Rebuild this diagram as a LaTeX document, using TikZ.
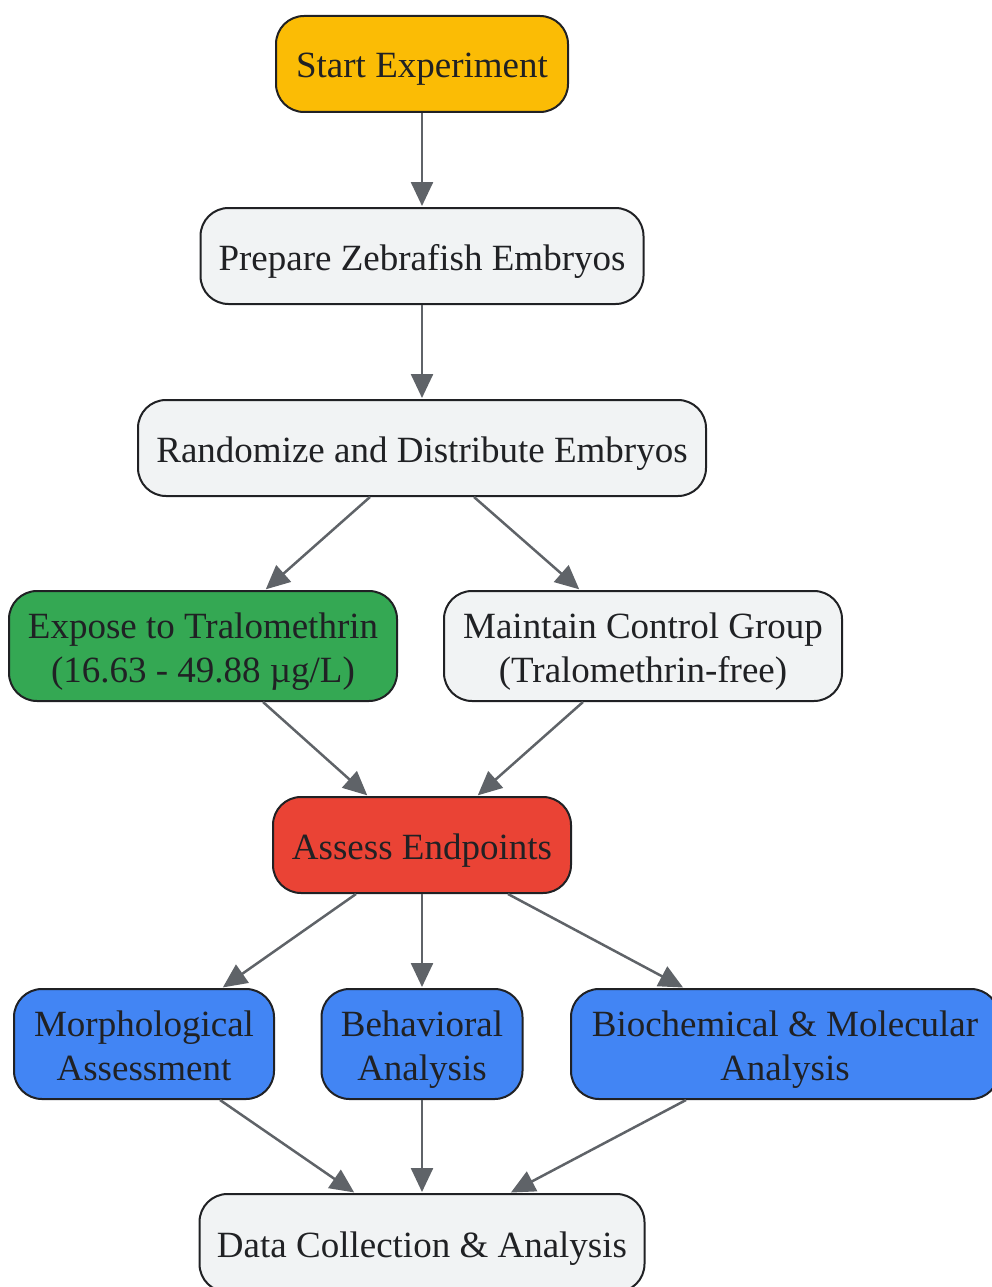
\documentclass[tikz,border=0pt]{standalone}
\usepackage{fontspec}
\setmainfont{Liberation Serif}
\usetikzlibrary{arrows.meta}
\definecolor{txt}{HTML}{202124}
\definecolor{edge}{HTML}{5F6368}
\definecolor{grayfill}{HTML}{F1F3F4}
\definecolor{yel}{HTML}{FBBC05}
\definecolor{grn}{HTML}{34A853}
\definecolor{redc}{HTML}{EA4335}
\definecolor{blu}{HTML}{4285F4}
\begin{document}
\begin{tikzpicture}[x=1pt,y=-1pt,
  box/.style={draw=txt, line width=2pt, rounded corners=28pt, align=center,
    text=txt, font=\fontsize{37}{44}\selectfont, inner sep=0pt},
  one/.style={box, minimum height=96pt, text height=34pt, text depth=6pt},
  two/.style={box, minimum height=110pt, text height=78pt, text depth=6pt},
  conn/.style={draw=edge, line width=2.5pt, -{Triangle[length=24pt,width=22pt]}, shorten >=1pt}
]
\useasboundingbox (0,0) rectangle (992,1287);
\node[one, fill=yel, minimum width=292pt] (start) at (422,64) {Start Experiment};
\node[one, fill=grayfill, minimum width=443pt] (prep) at (422,256) {Prepare Zebrafish Embryos};
\node[one, fill=grayfill, minimum width=568pt] (rand) at (422,448) {Randomize and Distribute Embryos};
\node[two, fill=grn, minimum width=388pt] (expo) at (203,646) {Expose to Tralomethrin\\(16.63 - 49.88 µg/L)};
\node[two, fill=grayfill, minimum width=398pt] (ctrl) at (643,646) {Maintain Control Group\\(Tralomethrin-free)};
\node[one, fill=redc, minimum width=298pt] (assess) at (422,845) {Assess Endpoints};
\node[two, fill=blu, minimum width=260pt] (morph) at (144,1044) {Morphological\\Assessment};
\node[two, fill=blu, minimum width=201pt] (behav) at (422,1044) {Behavioral\\Analysis};
\node[two, fill=blu, minimum width=428pt] (bio) at (785,1044) {Biochemical \& Molecular\\Analysis};
\node[one, fill=grayfill, minimum width=445pt, minimum height=98pt] (data) at (422,1243) {Data Collection \& Analysis};

\draw[conn] (start.south) -- (prep.north);
\draw[conn] (prep.south) -- (rand.north);
\draw[conn] ([xshift=-52pt]rand.south) -- ([xshift=62pt]expo.north);
\draw[conn] ([xshift=52pt]rand.south) -- ([xshift=-63pt]ctrl.north);
\draw[conn] ([xshift=60pt]expo.south) -- ([xshift=-54pt]assess.north);
\draw[conn] ([xshift=-60pt]ctrl.south) -- ([xshift=55pt]assess.north);
\draw[conn] ([xshift=-66pt]assess.south) -- ([xshift=78pt]morph.north);
\draw[conn] (assess.south) -- (behav.north);
\draw[conn] ([xshift=86pt]assess.south) -- ([xshift=-101pt]bio.north);
\draw[conn] ([xshift=76pt]morph.south) -- ([xshift=-67pt]data.north);
\draw[conn] (behav.south) -- (data.north);
\draw[conn] ([xshift=-99pt]bio.south) -- ([xshift=88pt]data.north);
\end{tikzpicture}
\end{document}
